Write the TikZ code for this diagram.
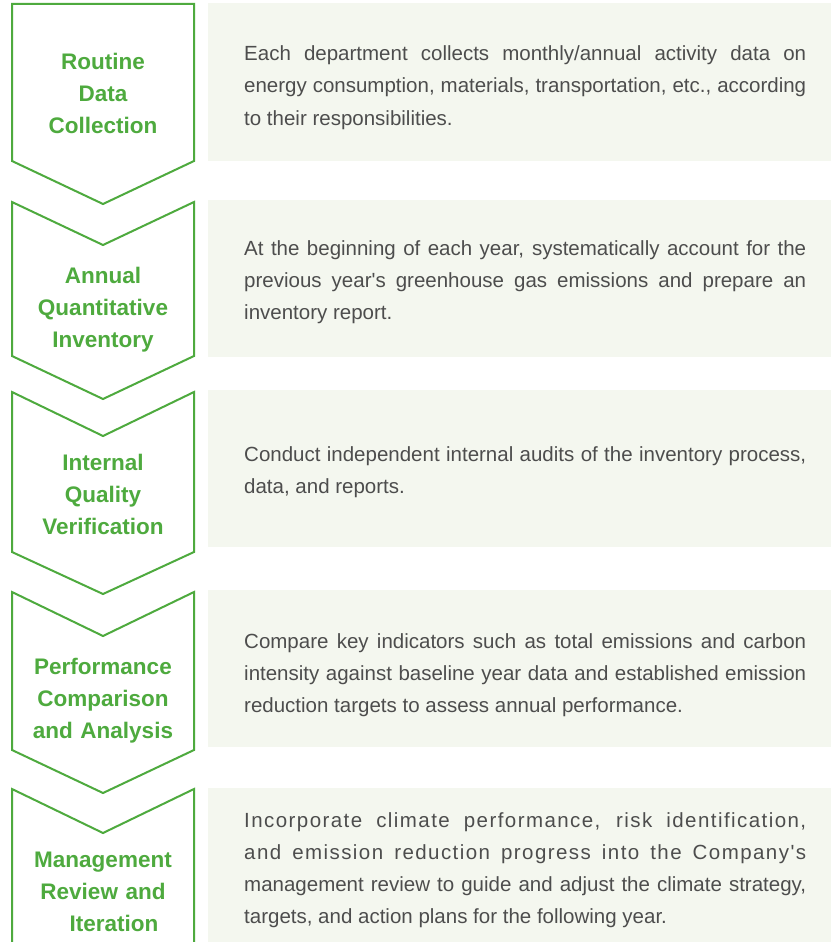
\documentclass[tikz,border=0pt]{standalone}
\usepackage{fontspec}
\setmainfont{Liberation Sans}[Ligatures=TeXOff]
\tolerance=10000
\hbadness=10000
\definecolor{grn}{HTML}{4EAA3E}
\definecolor{panelfill}{HTML}{F4F7EF}
\definecolor{bodytxt}{HTML}{4D4D4D}
\tikzset{
  chev/.style={draw=grn, line width=2pt, line join=miter},
  panelbox/.style={fill=panelfill, draw=none},
  titletxt/.style={text=grn, font=\bfseries\fontsize{22.5}{32}\selectfont, text width=190pt, align=center, inner sep=0pt, anchor=base},
  bodytext/.style={text=bodytxt, font=\fontsize{20.5}{32}\selectfont, text width=562pt, align=justify, inner sep=0pt, anchor=base west},
}
\begin{document}
\begin{tikzpicture}[x=1pt,y=-1pt]
\useasboundingbox (0,0) rectangle (831,942);
\fill[white] (0,0) rectangle (831,942);
% panels
\path[panelbox] (208,3) rectangle (831,161);
\path[panelbox] (208,200) rectangle (831,357);
\path[panelbox] (208,390) rectangle (831,547);
\path[panelbox] (208,590) rectangle (831,747);
\path[panelbox] (208,788) rectangle (831,945);
% chevrons
\draw[chev] (12,4) -- (194,4) -- (194,161) -- (103,204) -- (12,161) -- cycle;
\draw[chev] (12,202) -- (103,245) -- (194,202) -- (194,356) -- (103,399) -- (12,356) -- cycle;
\draw[chev] (12,392) -- (103,436) -- (194,392) -- (194,552) -- (103,594) -- (12,552) -- cycle;
\draw[chev] (12,592) -- (103,636) -- (194,592) -- (194,750) -- (103,793) -- (12,750) -- cycle;
\draw[chev] (12,950) -- (12,789) -- (103,833) -- (194,789) -- (194,950);
% titles
\node[titletxt] (t1) at (103,70) {Routine\\Data\\Collection};
\node[titletxt] (t2) at (103,283) {Annual\\Quantitative\\Inventory};
\node[titletxt] (t3) at (103,470) {Internal\\Quality\\Verification};
\node[titletxt] (t4) at (103,674) {Performance\\Comparison\\and Analysis};
\node[titletxt] (t5) at (103,867) {Management\\Review and\\\hspace*{22pt}Iteration};
% body texts
\node[bodytext] (b1) at (244,61) {Each department collects monthly/annual activity data on\linebreak energy consumption, materials, transportation, etc., according\linebreak to their responsibilities.};
\node[bodytext] (b2) at (244,255) {At the beginning of each year, systematically account for the\linebreak previous year's greenhouse gas emissions and prepare an\linebreak inventory report.};
\node[bodytext] (b3) at (244,461) {Conduct independent internal audits of the inventory process,\linebreak data, and reports.};
\node[bodytext] (b4) at (244,648) {Compare key indicators such as total emissions and carbon\linebreak intensity against baseline year data and established emission\linebreak reduction targets to assess annual performance.};
\node[bodytext] (b5) at (244,827) {{\addfontfeature{LetterSpace=7}Incorporate climate performance, risk identification,\linebreak and emission reduction progress into the Company's}\linebreak management review to guide and adjust the climate strategy,\linebreak targets, and action plans for the following year.};
\end{tikzpicture}
\end{document}
